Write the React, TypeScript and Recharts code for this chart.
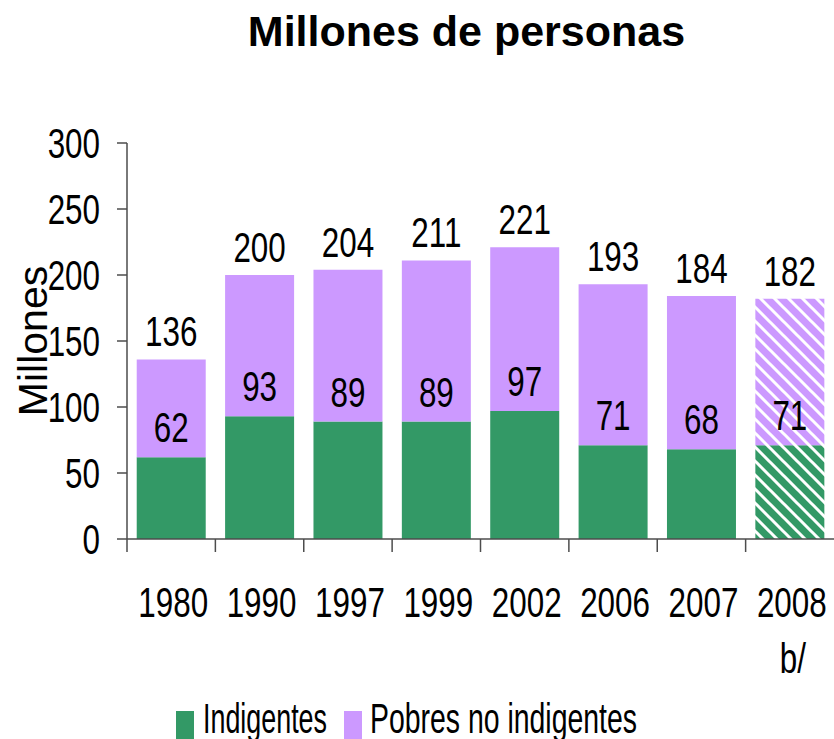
import { BarChart, Bar, XAxis, YAxis, Legend, LabelList, Cell } from 'recharts'

const years = ['1980', '1990', '1997', '1999', '2002', '2006', '2007', '2008']
const notes = ['', '', '', '', '', '', '', 'b/']
const indigentes = [62, 93, 89, 89, 97, 71, 68, 71]
const totales = [136, 200, 204, 211, 221, 193, 184, 182]
const yTicks = [0, 50, 100, 150, 200, 250, 300]

const GREEN = '#339966'
const PURPLE = '#cc99ff'
const AXIS = '#4d4d4d'
const SANS = "'Liberation Sans', Arial, sans-serif"
// no Arial Narrow here, so squeeze Liberation Sans horizontally
const SQUEEZE = 0.73
const FONT = 43

const data = years.map((year, i) => ({
  year,
  note: notes[i],
  indigentes: indigentes[i],
  pobres: totales[i] - indigentes[i],
  total: totales[i],
}))

const Narrow = ({ x, y, anchor = 'middle', children }: any) => (
  <g transform={`translate(${x},${y}) scale(${SQUEEZE},1)`}>
    <text x={0} y={0} textAnchor={anchor} fontFamily={SANS} fontSize={FONT} fill="#000">
      {children}
    </text>
  </g>
)

// year label plus the Excel-style tick between categories
const YearTick = (props: any) => {
  const { x, y, payload } = props
  const half = payload.offset ?? 0
  const note = notes[payload.index ?? years.indexOf(payload.value)]
  return (
    <g>
      <line x1={x - half} x2={x - half} y1={y} y2={y + 13} stroke={AXIS} strokeWidth={1.5} />
      <Narrow x={x + 2} y={y + 78}>{payload.value}</Narrow>
      {note ? <Narrow x={x + 3} y={y + 134}>{note}</Narrow> : null}
    </g>
  )
}

const ValueTick = (props: any) => {
  const { x, y, payload } = props
  return <Narrow x={x} y={y + 15} anchor="end">{payload.value}</Narrow>
}

const TotalLabel = (props: any) => {
  const { x, y, width, value } = props
  return <Narrow x={x + width / 2} y={y - 13}>{value}</Narrow>
}

const InnerLabel = (props: any) => {
  const { x, y, width, height, value } = props
  return <Narrow x={x + width / 2} y={y + height - 15}>{value}</Narrow>
}

const LegendBox = () => (
  <svg width={834} height={44} style={{ display: 'block' }}>
    <rect x={176} y={16} width={18} height={28} fill={GREEN} />
    <text x={203} y={38} fontFamily={SANS} fontSize={FONT} textLength={124} lengthAdjust="spacingAndGlyphs">
      Indigentes
    </text>
    <rect x={344} y={16} width={18} height={28} fill={PURPLE} />
    <text x={370} y={38} fontFamily={SANS} fontSize={FONT} textLength={267} lengthAdjust="spacingAndGlyphs">
      Pobres no indigentes
    </text>
  </svg>
)

export default function App() {
  return (
    <div style={{ position: 'absolute', left: 0, top: 0, width: 834, height: 739, background: '#fff' }}>
      <div
        style={{
          position: 'absolute',
          top: 10,
          left: 0,
          width: 834,
          paddingLeft: 99,
          boxSizing: 'border-box',
          textAlign: 'center',
          fontFamily: SANS,
          fontWeight: 'bold',
          fontSize: 43,
          lineHeight: '43px',
        }}
      >
        Millones de personas
      </div>
      <BarChart
        width={834}
        height={739}
        data={data}
        margin={{ top: 143, right: 0, bottom: 0, left: 0 }}
        barCategoryGap="11%"
      >
        <defs>
          <pattern id="hatchGreen" patternUnits="userSpaceOnUse" width={14} height={14}>
            <rect width={14} height={14} fill={GREEN} />
            <path d="M-3,-3 L17,17 M-3,11 L3,17 M11,-3 L17,3" stroke="#fff" strokeWidth={3} />
          </pattern>
          <pattern id="hatchPurple" patternUnits="userSpaceOnUse" width={14} height={14}>
            <rect width={14} height={14} fill={PURPLE} />
            <path d="M-3,-3 L17,17 M-3,11 L3,17 M11,-3 L17,3" stroke="#fff" strokeWidth={3} />
          </pattern>
        </defs>
        <XAxis
          dataKey="year"
          height={156}
          tickSize={0}
          tickMargin={0}
          tickLine={false}
          interval={0}
          axisLine={{ stroke: AXIS, strokeWidth: 1.5 }}
          tick={<YearTick />}
        />
        <YAxis
          width={127}
          domain={[0, 300]}
          ticks={yTicks}
          interval={0}
          tickSize={10}
          tickMargin={17}
          axisLine={{ stroke: AXIS, strokeWidth: 1.5 }}
          tickLine={{ stroke: AXIS, strokeWidth: 1.5 }}
          tick={<ValueTick />}
          label={{
            value: 'Millones',
            angle: -90,
            position: 'insideLeft',
            offset: 32,
            style: { textAnchor: 'middle', fontFamily: SANS, fontSize: 41, fill: '#000' },
          }}
        />
        <Legend verticalAlign="bottom" align="left" content={<LegendBox />} />
        <Bar dataKey="indigentes" stackId="a" fill={GREEN} isAnimationActive={false}>
          {data.map((d, i) => (
            <Cell key={i} fill={d.note ? 'url(#hatchGreen)' : GREEN} />
          ))}
        </Bar>
        <Bar dataKey="pobres" stackId="a" fill={PURPLE} isAnimationActive={false}>
          {data.map((d, i) => (
            <Cell key={i} fill={d.note ? 'url(#hatchPurple)' : PURPLE} />
          ))}
          <LabelList dataKey="total" content={<TotalLabel />} />
          <LabelList dataKey="indigentes" content={<InnerLabel />} />
        </Bar>
      </BarChart>
    </div>
  )
}
